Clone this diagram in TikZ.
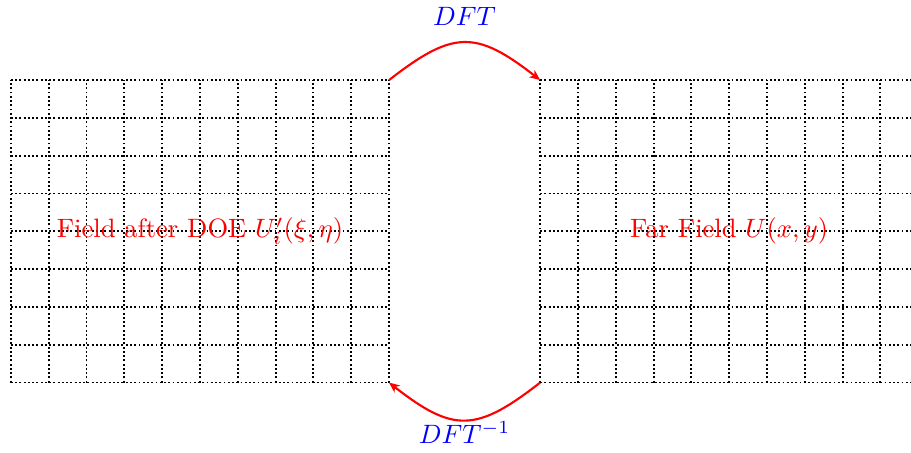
\documentclass[tikz,border=0pt]{standalone}
\usepackage{amsmath}
\usetikzlibrary{arrows.meta}

\begin{document}
\begin{tikzpicture}[scale=0.5,line join=round,
    cellgrid/.style={line width=0.7pt,dash pattern=on 0.7pt off 0.9pt},
    fftarrow/.style={red,thick,-{Stealth[length=4pt,width=3.4pt,inset=1.2pt]}},
    fftlabel/.style={blue},
    fieldlabel/.style={red}]
  \useasboundingbox (-0.29,-1.85) rectangle (23.81,10.12);
  \clip (-0.29,-1.85) rectangle (23.81,10.12);
  % sampled planes: DOE plane (left), far field (right)
  \draw[cellgrid] (0,0) grid (10,8);
  \draw[cellgrid] (14,0) grid (24,8);
  \coordinate (nearTop) at (10,8);
  \coordinate (nearBot) at (10,0);
  \coordinate (farTop) at (14,8);
  \coordinate (farBot) at (14,0);
  % forward and inverse transforms
  \draw[fftarrow] (nearTop) to[out=38,in=142,looseness=1.38] (farTop);
  \draw[fftarrow] (farBot) to[out=-142,in=-38,looseness=1.38] (nearBot);
  \node[fftlabel] (fwd) at (12,9.68) {$DFT$};
  \node[fftlabel] (inv) at (12,-1.33) {$DFT^{-1}$};
  \node[fieldlabel] (nearLbl) at (5,4) {Field after DOE $U_i'(\xi,\eta)$};
  \node[fieldlabel] (farLbl) at (19,4) {Far Field $U(x,y)$};
\end{tikzpicture}
\end{document}
